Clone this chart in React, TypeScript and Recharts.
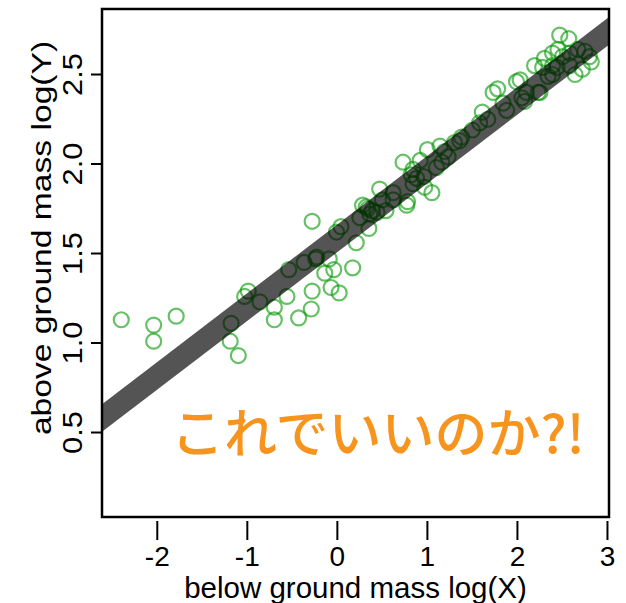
import { ScatterChart, Scatter, XAxis, YAxis, ReferenceLine, ReferenceArea } from 'recharts';

// below ground mass log(X)
const belowX = [
    -2.40, -2.04, -2.04, -1.79, -1.18, -1.19, -1.10, -0.99, -1.03, -0.86,
    -0.70, -0.70, -0.56, -0.43, -0.29, -0.28, -0.07, 0.02, -0.54, -0.37,
    -0.24, -0.23, -0.09, -0.14, -0.04, 0.17, -0.28, 0.04, 0.21, 0.32,
    0.36, 0.44, 0.35, 0.28, 0.39, 0.34, 0.47, 0.50, 0.54, 0.62,
    0.62, 0.73, 0.77, 0.78, 0.84, 0.82, 0.88, 0.96, 0.84, 0.97,
    1.05, 0.92, 1.00, 1.14, 1.19, 1.30, 1.36, 1.38, 1.16, 1.10,
    1.23, 1.50, 1.58, 1.61, 1.67, 1.73, 1.78, 1.84, 1.88, 1.99,
    2.05, 2.10, 2.08, 2.25, 2.19, 2.28, 2.39, 2.39, 2.47, 2.57,
    2.30, 2.39, 2.45, 2.50, 2.58, 2.67, 2.75, 2.80, 2.82, 2.64,
    2.72, 2.58, 2.44, 2.34, 2.23, 2.03, -0.01, 0.25,
];
// above ground mass log(Y)
const aboveY = [
    1.13, 1.10, 1.01, 1.15, 1.11, 1.01, 0.93, 1.29, 1.26, 1.23,
    1.20, 1.13, 1.26, 1.14, 1.19, 1.29, 1.31, 1.28, 1.41, 1.45,
    1.47, 1.48, 1.47, 1.39, 1.41, 1.42, 1.68, 1.65, 1.56, 1.76,
    1.72, 1.73, 1.64, 1.77, 1.74, 1.75, 1.86, 1.80, 1.74, 1.84,
    1.80, 2.01, 1.77, 1.79, 1.97, 1.94, 1.92, 1.93, 1.89, 1.87,
    1.84, 2.02, 2.08, 2.10, 2.07, 2.12, 2.13, 2.15, 2.01, 1.98,
    2.04, 2.19, 2.23, 2.29, 2.25, 2.40, 2.42, 2.34, 2.30, 2.46,
    2.37, 2.40, 2.35, 2.40, 2.55, 2.54, 2.55, 2.50, 2.72, 2.70,
    2.59, 2.62, 2.64, 2.60, 2.62, 2.64, 2.63, 2.60, 2.57, 2.50,
    2.53, 2.55, 2.54, 2.49, 2.40, 2.47, 1.62, 1.70,
];

const xTicks = [-2, -1, 0, 1, 2, 3];
const yTicks = [0.5, 1.0, 1.5, 2.0, 2.5];
const yTickLabels = ['0.5', '1.0', '1.5', '2.0', '2.5'];

// fitted line
const fitIntercept = 1.585;
const fitSlope = 0.384;

const xDomain: [number, number] = [-2.614, 3.017];
const yDomain: [number, number] = [0.028, 2.866];

const points = belowX.map((x, i) => ({ x, y: aboveY[i] }));
const fitSegment = [-3.2, 3.6].map((x) => ({ x, y: fitIntercept + fitSlope * x }));

const FONT = '"Liberation Sans", Arial, sans-serif';

function Ring(props: any) {
    const { cx, cy } = props;
    if (cx == null || cy == null) return null;
    return <circle cx={cx} cy={cy} r={7.5} fill="none" stroke="rgb(0,150,0)" strokeOpacity={0.6} strokeWidth={2.2} />;
}

function XTick(props: any) {
    const { x, y, payload } = props;
    return (
        <g>
            <line x1={x} x2={x} y1={y + 4} y2={y + 23} stroke="#000" strokeWidth={2} />
            <text x={x} y={y + 49} textAnchor="middle" fontSize={28} fontFamily={FONT} fill="#000">
                {payload.value}
            </text>
        </g>
    );
}

function YTick(props: any) {
    const { x, y, payload } = props;
    const label = yTickLabels[yTicks.indexOf(payload.value)] ?? String(payload.value);
    return (
        <g>
            <line x1={x - 11} x2={x} y1={y} y2={y} stroke="#000" strokeWidth={2} />
            <text
                x={0}
                y={0}
                transform={`translate(${x - 20} ${y}) rotate(-90) scale(1.1 1)`}
                textAnchor="middle"
                fontSize={28}
                fontFamily={FONT}
                fill="#000"
            >
                {label}
            </text>
        </g>
    );
}

function XTitle(props: any) {
    const vb = props.viewBox || {};
    return (
        <text x={vb.x + vb.width / 2} y={vb.y + 81} textAnchor="middle" fontSize={29.5} fontFamily={FONT} fill="#000">
            below ground mass log(X)
        </text>
    );
}

function YTitle(props: any) {
    const vb = props.viewBox || {};
    const cx = 51;
    const cy = vb.y + vb.height / 2 - 25;
    return (
        <text
            x={0}
            y={0}
            transform={`translate(${cx} ${cy}) rotate(-90) scale(1.18 1)`}
            textAnchor="middle"
            fontSize={28.5}
            fontFamily={FONT}
            fill="#000"
        >
            above ground mass log(Y)
        </text>
    );
}

export default function App() {
    return (
        <div style={{ position: 'absolute', left: 0, top: 0, width: 626, height: 603, background: '#fff' }}>
            <ScatterChart width={626} height={603} margin={{ top: 9, right: 17, bottom: 0, left: 0 }}>
                <XAxis
                    type="number"
                    dataKey="x"
                    domain={xDomain}
                    ticks={xTicks}
                    allowDataOverflow
                    height={86}
                    axisLine={false}
                    tickLine={false}
                    tickSize={0}
                    tickMargin={0}
                    tick={<XTick />}
                    label={<XTitle />}
                />
                <YAxis
                    type="number"
                    dataKey="y"
                    domain={yDomain}
                    ticks={yTicks}
                    allowDataOverflow
                    width={102}
                    axisLine={false}
                    tickLine={false}
                    tickSize={0}
                    tickMargin={0}
                    tick={<YTick />}
                    label={<YTitle />}
                />
                <Scatter data={points} shape={<Ring />} isAnimationActive={false} />
                <ReferenceLine
                    segment={fitSegment}
                    stroke="#000"
                    strokeOpacity={0.67}
                    strokeWidth={22}
                    ifOverflow="hidden"
                    zIndex={700}
                />
                <ReferenceArea
                    x1={xDomain[0]}
                    x2={xDomain[1]}
                    y1={yDomain[0]}
                    y2={yDomain[1]}
                    fill="none"
                    fillOpacity={0}
                    stroke="#000"
                    strokeWidth={2.5}
                    ifOverflow="visible"
                    zIndex={800}
                />
            </ScatterChart>
            <div
                style={{
                    position: 'absolute',
                    left: 171,
                    top: 404,
                    fontSize: 53,
                    fontWeight: 500,
                    lineHeight: '53px',
                    color: '#F7941D',
                    fontFamily: '"Noto Sans CJK JP", sans-serif',
                    whiteSpace: 'nowrap',
                }}
            >
                これでいいのか?!
            </div>
        </div>
    );
}
